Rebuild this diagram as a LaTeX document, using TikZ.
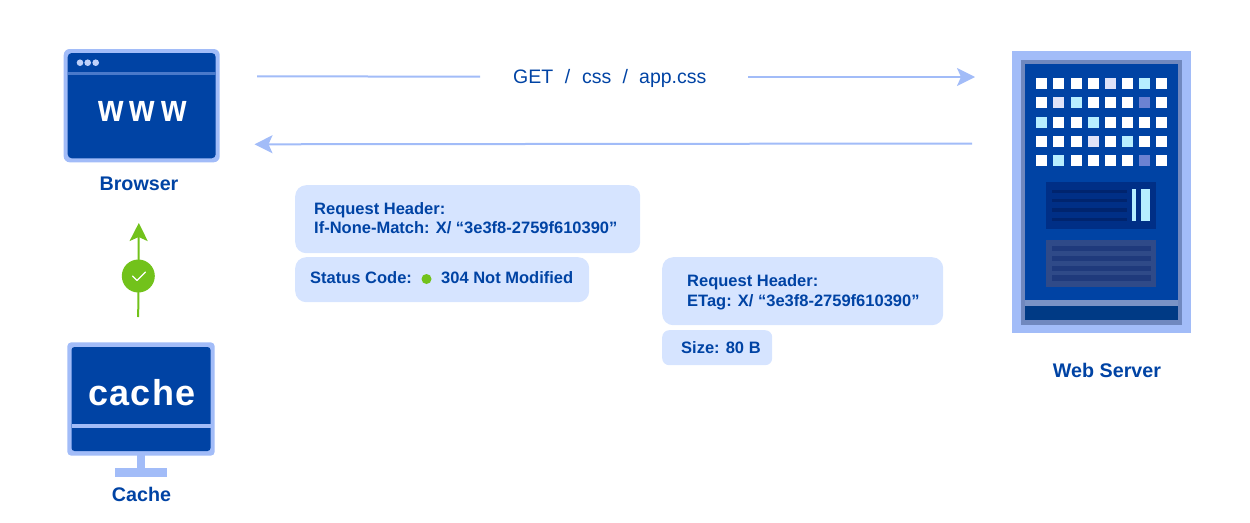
\documentclass[tikz,border=0pt]{standalone}
\usepackage{fontspec}
\setmainfont{Liberation Sans}
\usetikzlibrary{arrows.meta}
\definecolor{navy}{HTML}{0043A4}
\definecolor{light}{HTML}{A2BCF8}
\definecolor{pale}{HTML}{D6E4FF}
\definecolor{grn}{HTML}{72C21B}
\definecolor{srvframe}{HTML}{7088BE}
\definecolor{band}{HTML}{7A93C6}
\definecolor{foot}{HTML}{003A85}
\definecolor{pone}{HTML}{002F86}
\definecolor{ponel}{HTML}{00246E}
\definecolor{ptwo}{HTML}{2F4A88}
\definecolor{ptwol}{HTML}{1F3A7C}
\definecolor{cy}{HTML}{B6EEFF}
\definecolor{lv}{HTML}{DFE3F8}
\definecolor{dv}{HTML}{6B82D2}
\tikzset{
  x=1pt,y=-1pt,
  bubble/.style={fill=pale,rounded corners=11pt,draw=none,inner sep=0pt,anchor=north west},
  smallbubble/.style={bubble,rounded corners=7pt},
  txt/.style={text=navy,inner sep=0pt,anchor=base west,font=\fontsize{16.5}{20}\selectfont\bfseries},
  capt/.style={text=navy,inner sep=0pt,anchor=base,font=\fontsize{19.7}{24}\selectfont\bfseries},
  bigword/.style={text=white,inner sep=0pt,anchor=base,font=\fontsize{36}{40}\selectfont\bfseries},
  flow/.style={draw=light,line width=2pt},
  flowhead/.style={flow,-{Stealth[length=18pt,width=18pt,inset=4pt]}},
}
\newcommand{\sq}[3]{\fill[#3] ({1036.3+17.15*#1},{78.3+19.1*#2}) rectangle ++(11,11);}
\begin{document}
\begin{tikzpicture}
\useasboundingbox (0,0) rectangle (1250,522);
% browser
\fill[light,rounded corners=6pt] (63.7,49) rectangle (219.7,162.3);
\fill[navy,rounded corners=4pt] (67.7,53) rectangle (215.7,158.3);
\fill[light!45!navy] (67.7,72.3) rectangle (215.7,74.6);
\foreach \px in {80,87.7,95.7} \fill[light!70!white] (\px,62.7) circle (3.3);
\node[bigword,font=\fontsize{38}{40}\selectfont\bfseries\addfontfeature{LetterSpace=18},xscale=.86,transform shape] (www) at (142.5,121.7) {www};
\node[capt] (browser) at (139,190) {Browser};
% cache
\fill[light,rounded corners=4pt] (67.3,342.3) rectangle (214.7,455.7);
\fill[navy,rounded corners=3pt] (71.5,347) rectangle (210.5,451);
\fill[light] (71.5,423.8) rectangle (210.5,427.8);
\fill[light] (137,455) rectangle (145,469);
\fill[light] (115,468.3) rectangle (167,477);
\node[bigword,font=\fontsize{36}{40}\selectfont\bfseries\addfontfeature{LetterSpace=3}] (cachew) at (142,405) {cache};
\node[capt] (cachecap) at (141.5,501.7) {Cache};
% green connector
\coordinate (gbot) at (138.2,317);
\coordinate (gtop) at (138.8,223);
\draw[grn,line width=2pt,-{Stealth[length=18pt,width=18pt,inset=4pt]}] (gbot) -- (gtop);
\node[circle,fill=grn,minimum size=33pt,inner sep=0pt] (gc) at (138.3,276) {};
\draw[white,line width=1.3pt,line cap=round,line join=round] (132.5,276) -- (137,280.5) -- (145.5,272);
% arrows and request label
\coordinate (a1) at (257,76.3);
\coordinate (a2) at (480,76.7);
\coordinate (a3) at (748,77);
\coordinate (a4) at (975,77);
\coordinate (b1) at (972,143.5);
\coordinate (b2) at (254.5,144.3);
\draw[flow] (a1) -- (a2);
\draw[flowhead] (a3) -- (a4);
\draw[flowhead] (b1) -- (b2);
\node[text=navy,inner sep=0pt,anchor=base west,font=\fontsize{19.5}{24}\selectfont] (get) at (513,83.5) {GET\hspace{11.7pt}/\hspace{11.7pt}css\hspace{11.2pt}/\hspace{11.2pt}app.css};
% bubbles
\node[bubble,minimum width=345pt,minimum height=68pt] (rq) at (295,185) {};
\node[bubble,minimum width=294pt,minimum height=45pt] (st) at (295,257) {};
\node[bubble,minimum width=281pt,minimum height=68pt] (et) at (662,257) {};
\node[smallbubble,minimum width=110pt,minimum height=35pt] (sz) at (662,330) {};
\node[txt] (t1) at (314,214) {Request Header:};
\node[txt] (t2) at (314,233.7) {If-None-Match: X/ “3e3f8-2759f610390”};
\node[txt] (t3) at (310,283.7) {Status Code:};
\node[circle,fill=grn,minimum size=10pt,inner sep=0pt] (dot) at (426.5,279) {};
\node[txt] (t4) at (441,283.7) {304 Not Modified};
\node[txt] (t5) at (687,286) {Request Header:};
\node[txt] (t6) at (687,306) {ETag: X/ “3e3f8-2759f610390”};
\node[txt] (t7) at (681,353) {Size: 80 B};
% server
\fill[light] (1012,51) rectangle (1191,333);
\fill[srvframe] (1021,60) rectangle (1182,325);
\fill[navy] (1025,64) rectangle (1178,300);
\fill[band] (1025,300) rectangle (1178,306);
\fill[foot] (1025,306) rectangle (1178,320);
\foreach \r/\c/\k in {
0/0/white,0/1/white,0/2/white,0/3/white,0/4/lv,0/5/white,0/6/cy,0/7/white,
1/0/white,1/1/lv,1/2/cy,1/3/white,1/4/white,1/5/white,1/6/dv,1/7/white,
2/0/cy,2/1/white,2/2/white,2/3/cy,2/4/white,2/5/white,2/6/white,2/7/white,
3/0/white,3/1/white,3/2/white,3/3/lv,3/4/white,3/5/cy,3/6/white,3/7/white,
4/0/white,4/1/cy,4/2/white,4/3/white,4/4/white,4/5/white,4/6/dv,4/7/white}
  {\sq{\c}{\r}{\k}}
\fill[pone] (1046,182) rectangle (1156,229);
\foreach \ly in {191.3,200.3,210,219.3} \fill[ponel] (1052,\ly-1.6) rectangle (1127,\ly+1.6);
\fill[cy] (1132.3,189.3) rectangle (1136,221);
\fill[cy] (1141.3,189.3) rectangle (1149.7,221);
\fill[ptwo] (1046,240) rectangle (1156,287);
\foreach \ly in {246,256,265.7,275.3} \fill[ptwol] (1052,\ly) rectangle (1151,\ly+5.2);
\node[capt] (web) at (1107,377) {Web Server};
\end{tikzpicture}
\end{document}
